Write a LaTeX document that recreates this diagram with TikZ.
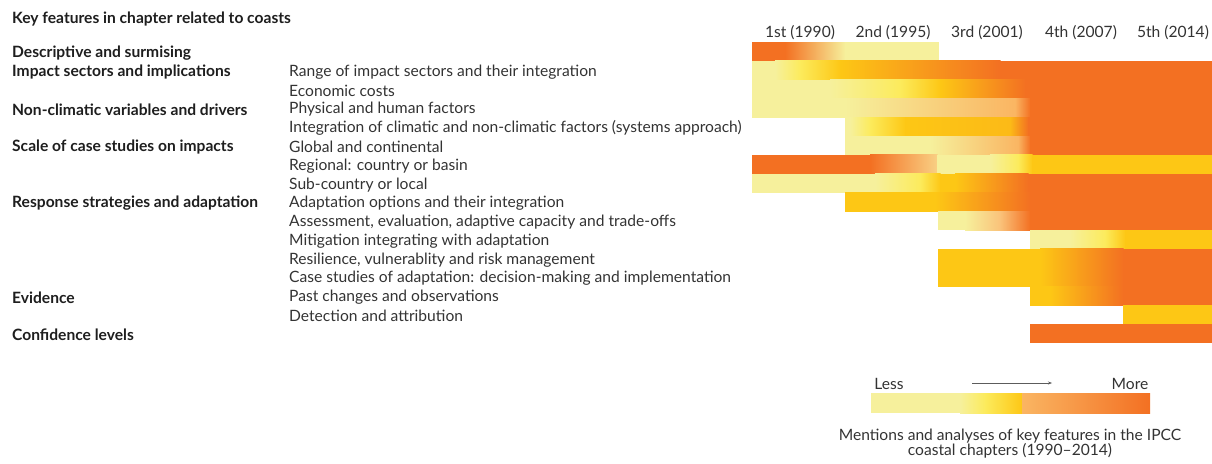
\documentclass[tikz,border=0pt]{standalone}
\usepackage{fontspec}
\setmainfont{Lato}
\usetikzlibrary{arrows.meta}
\definecolor{orng}{HTML}{F37022}
\definecolor{gold}{HTML}{FDC715}
\definecolor{pale}{HTML}{F6F09C}
\definecolor{yelw}{HTML}{FCEB5C}
\definecolor{peach}{HTML}{FAC27A}
\definecolor{lorng}{HTML}{FAB562}
\definecolor{txt}{HTML}{333333}
\definecolor{txtb}{HTML}{1E1E1E}
% gradient segment: row, x1, x2, left colour, right colour
\newcommand\BarG[5]{\fill[left color=#4,right color=#5] (#2,{42+#1*18.8}) rectangle ({#3+0.5},{42+#1*18.8+19.2});}
% constant segment
\newcommand\BarC[4]{\fill[#4] (#2,{42+#1*18.8}) rectangle ({#3+0.5},{42+#1*18.8+19.2});}
\newcommand\fs{\fontsize{15.6}{15}\selectfont}
\begin{document}
\begin{tikzpicture}[x=1pt,y=-1pt,
  cat/.style={anchor=west,inner sep=0pt,text=txtb,font=\fs\bfseries},
  item/.style={anchor=west,inner sep=0pt,text=txt,font=\fs},
  head/.style={anchor=center,inner sep=0pt,text=txt,font=\fs},
  legtxt/.style={anchor=center,inner sep=0pt,text=txt,font=\fs},
  arr/.style={draw=txt!80,line width=0.6pt,-{Stealth[length=4pt,width=3pt]}}]
\useasboundingbox (0,0) rectangle (1212,463);
% ---------------- bars ----------------
% row 0 descriptive
\BarC{0}{752}{785}{orng}
\BarG{0}{785}{845}{orng}{pale}
\BarC{0}{845}{938}{pale}
% row 1 range of impact sectors
\BarC{1}{752}{775}{pale}
\BarG{1}{775}{800}{pale}{yelw}
\BarG{1}{800}{840}{yelw}{gold}
\BarG{1}{840}{1000}{gold}{orng}
\BarC{1}{1000}{1212}{orng}
% row 2 economic costs
\BarC{2}{752}{830}{pale}
\BarG{2}{830}{900}{pale}{yelw}
\BarG{2}{900}{940}{yelw}{gold}
\BarG{2}{940}{1025}{gold}{orng}
\BarC{2}{1025}{1212}{orng}
% row 3 physical and human
\BarC{3}{752}{845}{pale}
\BarG{3}{845}{1015}{pale}{lorng}
\BarG{3}{1015}{1030}{lorng}{orng}
\BarC{3}{1030}{1212}{orng}
% row 4 integration
\BarC{4}{845}{850}{pale}
\BarG{4}{850}{870}{pale}{yelw}
\BarG{4}{870}{905}{yelw}{gold}
\BarG{4}{905}{1010}{gold}{gold!85!orng}
\BarG{4}{1010}{1028}{gold!85!orng}{orng}
\BarC{4}{1028}{1212}{orng}
% row 5 global
\BarC{5}{845}{930}{pale}
\BarG{5}{930}{1018}{pale}{lorng}
\BarG{5}{1018}{1030}{lorng}{orng}
\BarC{5}{1030}{1212}{orng}
% row 6 regional
\BarC{6}{752}{870}{orng}
\BarG{6}{870}{937}{orng}{peach!70!pale}
\BarC{6}{937}{990}{pale}
\BarG{6}{990}{1018}{pale}{yelw}
\BarG{6}{1018}{1032}{yelw}{gold}
\BarC{6}{1032}{1212}{gold}
% row 7 sub-country
\BarC{7}{752}{875}{pale}
\BarG{7}{875}{920}{pale}{yelw}
\BarG{7}{920}{940}{yelw}{gold}
\BarC{7}{940}{955}{gold}
\BarG{7}{955}{1028}{gold}{orng}
\BarC{7}{1028}{1212}{orng}
% row 8 adaptation options
\BarC{8}{845}{935}{gold}
\BarG{8}{935}{1030}{gold}{orng}
\BarC{8}{1030}{1212}{orng}
% row 9 assessment
\BarC{9}{938}{965}{pale}
\BarG{9}{965}{1000}{pale}{peach}
\BarG{9}{1000}{1030}{peach}{orng}
\BarC{9}{1030}{1212}{orng}
% row 10 mitigation
\BarC{10}{1030}{1070}{pale}
\BarG{10}{1070}{1105}{pale}{yelw}
\BarG{10}{1105}{1125}{yelw}{gold}
\BarC{10}{1125}{1212}{gold}
% rows 11-12 resilience, case studies
\BarC{11}{938}{1040}{gold}
\BarG{11}{1040}{1123}{gold}{orng}
\BarC{11}{1123}{1212}{orng}
\BarC{12}{938}{1040}{gold}
\BarG{12}{1040}{1123}{gold}{orng}
\BarC{12}{1123}{1212}{orng}
% row 13 past changes
\BarC{13}{1030}{1050}{gold}
\BarG{13}{1050}{1123}{gold}{orng}
\BarC{13}{1123}{1212}{orng}
% row 14 detection
\BarC{14}{1123}{1212}{gold}
% row 15 confidence
\fill[orng] (1030,324) rectangle (1212.5,342.8);
% ---------------- headers ----------------
\node[head] (h1) at (800,33) {1st (1990)};
\node[head] (h2) at (893,33) {2nd (1995)};
\node[head] (h3) at (987,33) {3rd (2001)};
\node[head] (h4) at (1081,33) {4th (2007)};
\node[head] (h5) at (1173,33) {5th (2014)};
% ---------------- left text ----------------
\node[cat] (title) at (12,19.5) {Key features in chapter related to coasts};
\node[cat] (c0) at (12,53) {Descriptive and surmising};
\node[cat] (c1) at (12,71.8) {Impact sectors and implications};
\node[cat] (c3) at (12,109.4) {Non-climatic variables and drivers};
\node[cat] (c5) at (12,147) {Scale of case studies on impacts};
\node[cat] (c8) at (12,203.4) {Response strategies and adaptation};
\node[cat] (c13) at (12,297.4) {Evidence};
\node[cat] (c15) at (12,335) {Confidence levels};
\node[item] (i1) at (289,71.8) {Range of impact sectors and their integration};
\node[item] (i2) at (289,90.6) {Economic costs};
\node[item] (i3) at (289,109.4) {Physical and human factors};
\node[item] (i4) at (289,128.2) {Integration of climatic and non-climatic factors (systems approach)};
\node[item] (i5) at (289,147) {Global and continental};
\node[item] (i6) at (289,165.8) {Regional: country or basin};
\node[item] (i7) at (289,184.6) {Sub-country or local};
\node[item] (i8) at (289,203.4) {Adaptation options and their integration};
\node[item] (i9) at (289,222.2) {Assessment, evaluation, adaptive capacity and trade-offs};
\node[item] (i10) at (289,241) {Mitigation integrating with adaptation};
\node[item] (i11) at (289,259.8) {Resilience, vulnerablity and risk management};
\node[item] (i12) at (289,278.6) {Case studies of adaptation: decision-making and implementation};
\node[item] (i13) at (289,297.4) {Past changes and observations};
\node[item] (i14) at (289,316.2) {Detection and attribution};
% ---------------- legend ----------------
\fill[pale] (871,393) rectangle (960.5,413);
\fill[left color=pale,right color=yelw] (960,393) rectangle (985.5,413);
\fill[left color=yelw,right color=gold] (985,393) rectangle (1022.5,413);
\fill[left color=lorng,right color=orng] (1022,393) rectangle (1150,413);
\node[legtxt] (less) at (889,384) {Less};
\node[legtxt] (more) at (1130,384) {More};
\coordinate (a1) at (972,383);
\coordinate (a2) at (1052,383);
\draw[arr] (a1) -- (a2);
\node[legtxt,align=center] (cap) at (1010,443.5) {Mentions and analyses of key features in the IPCC\\coastal chapters (1990--2014)};
\end{tikzpicture}
\end{document}
